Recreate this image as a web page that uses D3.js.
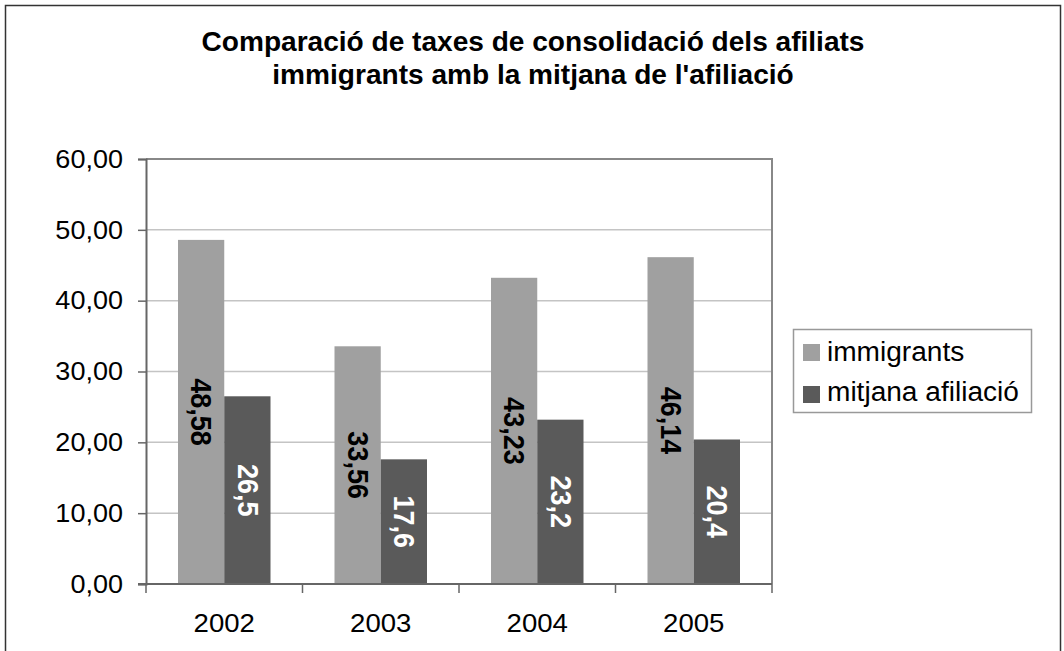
<!DOCTYPE html>
<html><head><meta charset="utf-8">
<script src="https://cdn.jsdelivr.net/npm/d3@7"></script>
<style>
html,body{margin:0;padding:0;background:#fff;}
text{font-family:"Liberation Sans",Arial,sans-serif;}
</style></head>
<body>
<svg id="chart" width="1064" height="651"></svg>
<script>
const years = ["2002","2003","2004","2005"];
const seriesNames = ["immigrants","mitjana afiliació"];
const immigrants = [48.58, 33.56, 43.23, 46.14];
const mitjana = [26.5, 17.6, 23.2, 20.4];
const labelsImm = ["48,58","33,56","43,23","46,14"];
const labelsMit = ["26,5","17,6","23,2","20,4"];
const yTicks = [0,10,20,30,40,50,60];
const titleLines = ["Comparació de taxes de consolidació dels afiliats","immigrants amb la mitjana de l'afiliació"];
const colors = ["#a0a0a0","#5a5a5a"];

const SX = 1.04; // horizontal stretch of the original picture's text
const svg = d3.select("#chart");
function stext(parent, x, y, str, opts){
  const t = parent.append("text")
    .attr("transform", `translate(${x},${y}) scale(${SX},1)`)
    .attr("font-size", opts.size).attr("fill", opts.fill||"#000")
    .attr("text-anchor", opts.anchor||"start");
  if (opts.bold) t.attr("font-weight","bold");
  if (opts.baseline) t.attr("dominant-baseline", opts.baseline);
  t.text(str);
  return t;
}

// outer frame
svg.append("rect").attr("x",5.5).attr("y",5.5).attr("width",1055).attr("height",660)
  .attr("fill","none").attr("stroke","#333").attr("stroke-width",1.5);

const L=146, R=772, T=159, B=584;
const x = d3.scaleBand().domain(years).range([L,R]).paddingInner(0).paddingOuter(0);
const y = d3.scaleLinear().domain([0,60]).range([B,T]);
const groupPad = 32;
const bw = (x.bandwidth()-2*groupPad)/2;

// gridlines
svg.append("g").selectAll("line").data(yTicks.filter(d=>d>0)).join("line")
  .attr("x1",L).attr("x2",R).attr("y1",d=>y(d)).attr("y2",d=>y(d))
  .attr("stroke", d=>d===60?"#888":"#c4c4c4").attr("stroke-width",d=>d===60?2:1.5);
// right border
svg.append("line").attr("x1",R).attr("x2",R).attr("y1",T-1).attr("y2",B).attr("stroke","#888").attr("stroke-width",2);

// bars
const data = years.map((yr,i)=>({yr, vals:[immigrants[i], mitjana[i]], labs:[labelsImm[i], labelsMit[i]]}));
const g = svg.append("g");
data.forEach(d=>{
  d.vals.forEach((v,j)=>{
    const x0 = x(d.yr)+groupPad+j*bw;
    g.append("rect").attr("x",x0).attr("y",y(v)).attr("width",bw).attr("height",B-y(v))
      .attr("fill",colors[j]);
    const cx = x0+bw/2, cy=(y(v)+B)/2;
    g.append("text").attr("transform",`translate(${cx},${cy}) scale(1.06,1) rotate(90)`)
      .attr("text-anchor","middle").attr("dominant-baseline","central")
      .attr("font-size",27).attr("font-weight","bold")
      .attr("fill", j===0?"#000":"#fff").text(d.labs[j]);
  });
});

// y axis
const yAxis = d3.axisLeft(y).tickValues(yTicks).tickSize(8).tickFormat(()=>"");
const ya = svg.append("g").attr("transform",`translate(${L},0)`).call(yAxis);
ya.select(".domain").attr("stroke","#666").attr("stroke-width",2);
ya.selectAll(".tick line").attr("stroke","#666").attr("stroke-width",1.5);
ya.selectAll(".tick text").remove();
const yl = svg.append("g");
yTicks.forEach(v=>{
  stext(yl, 123, y(v), d3.format(".2f")(v).replace(".",","), {size:26, anchor:"end", baseline:"central"});
});

// x axis
const xa = svg.append("g").attr("transform",`translate(0,${B})`);
xa.append("line").attr("x1",L-8).attr("x2",R).attr("y1",0).attr("y2",0).attr("stroke","#666").attr("stroke-width",2);
const bounds = years.map(yr=>x(yr)).concat([R]);
xa.selectAll("line.tk").data(bounds).join("line").attr("class","tk")
  .attr("x1",d=>d).attr("x2",d=>d).attr("y1",0).attr("y2",9).attr("stroke","#666").attr("stroke-width",1.5);
years.forEach(yr=>{
  stext(xa, x(yr)+x.bandwidth()/2, 48, yr, {size:26.5, anchor:"middle"});
});

// title
const tg = svg.append("g");
titleLines.forEach((s,i)=>{
  stext(tg, 533, 51+i*33, s, {size:27, bold:true, anchor:"middle"});
});

// legend
const lg = svg.append("g");
lg.append("rect").attr("x",793.5).attr("y",329.5).attr("width",238).attr("height",83)
  .attr("fill","#fff").attr("stroke","#999").attr("stroke-width",1.5);
seriesNames.forEach((n,i)=>{
  lg.append("rect").attr("x",803).attr("y",344+i*42).attr("width",17).attr("height",17).attr("fill",colors[i]);
  stext(lg, 827, 361+i*40, n, {size:27});
});
</script>
</body></html>
